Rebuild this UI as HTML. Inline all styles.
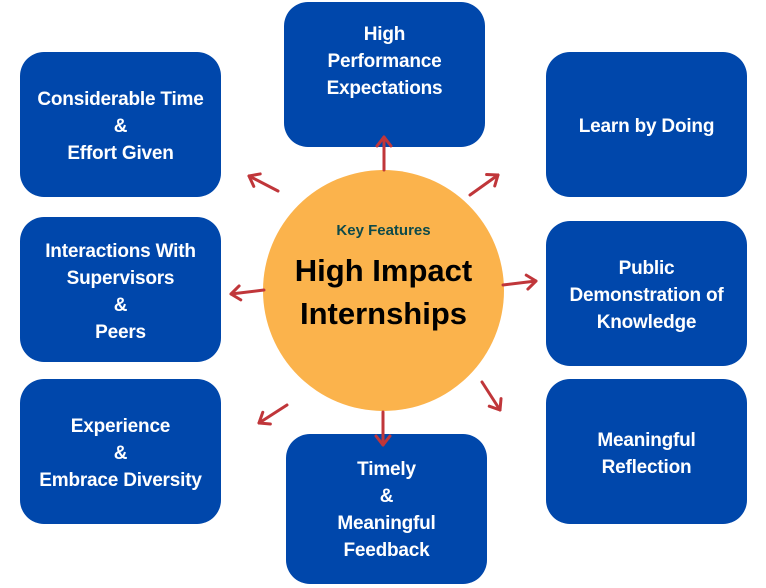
<!DOCTYPE html>
<html><head><style>
body{margin:0;width:766px;height:588px;background:#fff;position:relative;overflow:hidden;font-family:"Liberation Sans",sans-serif}
.b{position:absolute;background:#0047ab;border-radius:24px;color:#fff;font-weight:bold;font-size:19px;line-height:27px;text-align:center;display:flex;align-items:center;justify-content:center;width:201px;height:145px;letter-spacing:-0.2px;padding-top:4px;box-sizing:border-box}
.c{position:absolute;left:263px;top:170px;width:241px;height:241px;border-radius:50%;background:#fbb34c;text-align:center}
</style></head><body>
<div class="b" style="left:284px;top:2px;align-items:flex-start;padding-top:19px">High<br>Performance<br>Expectations</div>
<div class="b" style="left:20px;top:52px">Considerable Time<br>&amp;<br>Effort Given</div>
<div class="b" style="left:546px;top:52px">Learn by Doing</div>
<div class="b" style="left:20px;top:217px">Interactions With<br>Supervisors<br>&amp;<br>Peers</div>
<div class="b" style="left:546px;top:221px">Public<br>Demonstration of<br>Knowledge</div>
<div class="b" style="left:20px;top:379px">Experience<br>&amp;<br>Embrace Diversity</div>
<div class="b" style="left:546px;top:379px">Meaningful<br>Reflection</div>
<div class="b" style="left:286px;top:434px;height:150px;align-items:flex-end"><div style="padding-bottom:20px">Timely<br>&amp;<br>Meaningful<br>Feedback</div></div>
<div class="c"><div style="margin-top:52px;font-size:15px;font-weight:bold;color:#0d4a4a">Key Features</div>
<div style="margin-top:10px;font-size:31px;font-weight:bold;line-height:43px;color:#000">High Impact<br>Internships</div></div>
<svg width="766" height="588" style="position:absolute;left:0;top:0" fill="none" stroke="#c0363a" stroke-width="3" stroke-linecap="round" stroke-linejoin="round">
<defs><marker id="a" markerWidth="20" markerHeight="20" refX="12" refY="10" orient="auto" markerUnits="userSpaceOnUse"><path d="M3,3 L12,10 L3,17" stroke="#c0363a" stroke-width="3" fill="none"/></marker></defs>
<g marker-end="url(#a)">
<line x1="384" y1="170" x2="384" y2="137"/>
<line x1="278" y1="191" x2="249" y2="176"/>
<line x1="470" y1="195" x2="498" y2="175"/>
<line x1="264" y1="290" x2="231" y2="294"/>
<line x1="503" y1="285" x2="536" y2="281"/>
<line x1="287" y1="405" x2="259" y2="423"/>
<line x1="383" y1="412" x2="383" y2="445"/>
<line x1="482" y1="382" x2="500" y2="410"/>
</g></svg>
</body></html>
